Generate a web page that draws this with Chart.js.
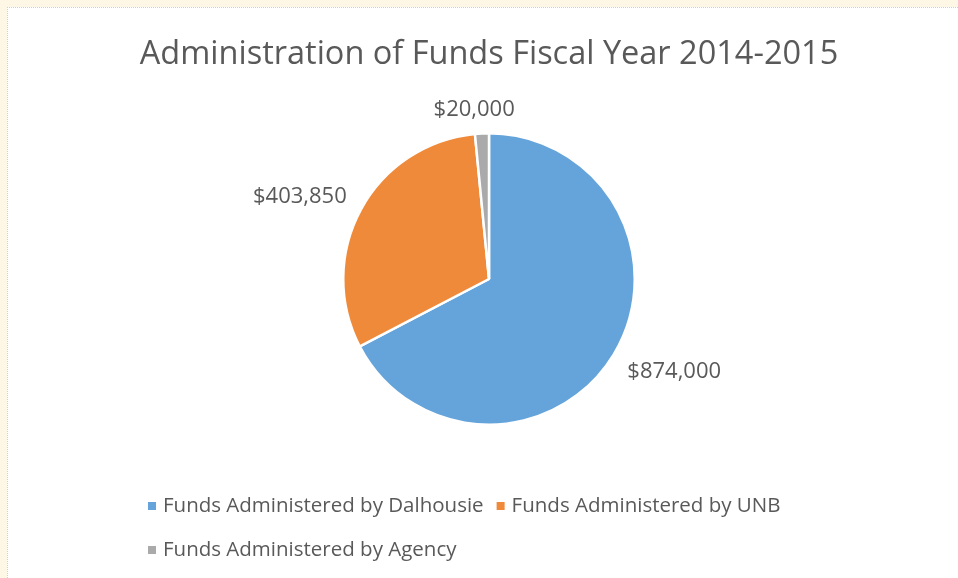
<!DOCTYPE html>
<html>
<head>
<meta charset="utf-8">
<script src="https://cdn.jsdelivr.net/npm/chart.js@4.4.1/dist/chart.umd.min.js"></script>
<style>
  html, body { margin: 0; padding: 0; }
  body { width: 958px; height: 578px; background: #FEF7E6; overflow: hidden; position: relative; }
  #wrap { position: absolute; left: 7px; top: 7px; width: 951px; height: 571px; background: #fff;
          border-left: 1px dotted #cfcfcf; border-top: 1px dotted #cfcfcf; box-sizing: border-box; }
  canvas { display: block; }
</style>
</head>
<body>
<div id="wrap"><canvas id="c" width="950" height="570"></canvas></div>
<script>
const titleText = 'Administration of Funds Fiscal Year 2014-2015';
const categories = ['Funds Administered by Dalhousie', 'Funds Administered by UNB', 'Funds Administered by Agency'];
const values = [874000, 403850, 20000];
const colors = ['#65A4DA', '#EF8A3A', '#AAAAAA'];
const FONT = '"Open Sans", "Liberation Sans", sans-serif';
const TEXT = '#595959';

function fmt(v) { return '$' + v.toLocaleString('en-US'); }

const overlay = {
  id: 'overlay',
  afterDraw(chart) {
    const ctx = chart.ctx;
    ctx.save();
    // title
    ctx.fillStyle = TEXT;
    ctx.font = '32.5px ' + FONT;
    ctx.textAlign = 'center';
    ctx.textBaseline = 'middle';
    ctx.fillText(titleText, 481, 47);
    // data labels
    const meta = chart.getDatasetMeta(0);
    ctx.font = '22px ' + FONT;
    ctx.textBaseline = 'middle';
    meta.data.forEach((arc, i) => {
      const p = arc.getProps(['x', 'y', 'startAngle', 'endAngle', 'outerRadius'], true);
      const mid = (p.startAngle + p.endAngle) / 2;
      const c = Math.cos(mid), s = Math.sin(mid);
      const r = p.outerRadius + 16;
      let x = p.x + c * r;
      const y = p.y + s * r;
      let yy = y;
      if (Math.abs(c) < 0.2) {
        ctx.textAlign = 'center';
        x -= 7;
        yy = y + (s < 0 ? -8 : 8);
      } else {
        ctx.textAlign = c > 0 ? 'left' : 'right';
        yy = y + s * 12 + (s > 0 ? 3 : 0);
      }
      ctx.fillText(fmt(values[i]), x, yy);
    });
    // legend
    ctx.font = '20.5px ' + FONT;
    ctx.textAlign = 'left';
    ctx.textBaseline = 'middle';
    const rows = [[0, 1], [2]];
    const rowY = [498, 542];
    rows.forEach((row, ri) => {
      let x = 140;
      row.forEach(idx => {
        ctx.fillStyle = colors[idx];
        ctx.fillRect(x, rowY[ri] - 4, 8, 8);
        ctx.fillStyle = TEXT;
        ctx.fillText(categories[idx], x + 15, rowY[ri]);
        x += 15 + ctx.measureText(categories[idx]).width + 13;
      });
    });
    ctx.restore();
  }
};

new Chart(document.getElementById('c'), {
  type: 'pie',
  data: {
    labels: categories,
    datasets: [{
      data: values,
      backgroundColor: colors,
      borderColor: '#ffffff',
      borderWidth: 2.5,
      hoverOffset: 0
    }]
  },
  options: {
    responsive: false,
    animation: false,
    layout: { padding: { left: 334, right: 322, top: 124, bottom: 152 } },
    plugins: {
      legend: { display: false },
      title: { display: false },
      tooltip: { enabled: false }
    }
  },
  plugins: [overlay]
});
</script>
</body>
</html>
